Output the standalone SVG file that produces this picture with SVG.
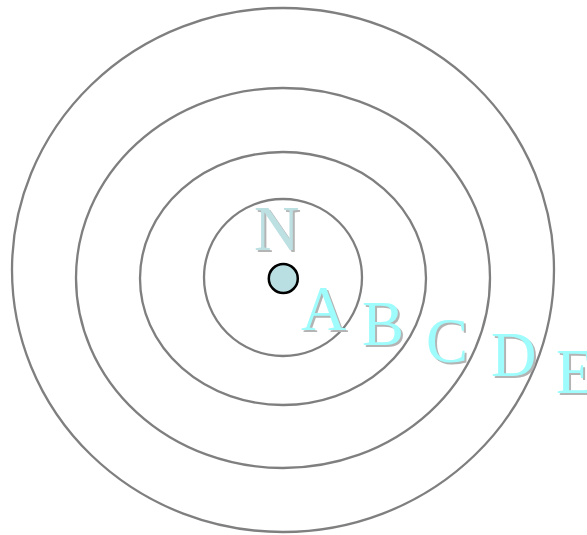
<svg xmlns="http://www.w3.org/2000/svg" width="587" height="535" viewBox="0 0 587 535">
<style>
.ring{fill:none;stroke:#7f7f7f;stroke-width:2.3}
.lbl{font-family:"Liberation Serif","Times New Roman",serif;font-size:63px}
.sh{fill:#b4b4b4}
.cy{fill:#9ffcfc}
.nn{fill:#bde0e3}
</style>
<rect width="587" height="535" fill="#ffffff"/>
<g id="rings">
<ellipse id="ringD" class="ring" cx="283" cy="270" rx="271" ry="262"/>
<ellipse id="ringC" class="ring" cx="283" cy="278" rx="207" ry="190"/>
<ellipse id="ringB" class="ring" cx="283" cy="278.5" rx="143" ry="126.5"/>
<ellipse id="ringA" class="ring" cx="283" cy="277.5" rx="79" ry="78.5"/>
</g>
<g id="nucleus">
<circle cx="283.3" cy="278.5" r="14.5" fill="#b9dfe3" stroke="#000000" stroke-width="2.5"/>
</g>
<g id="labelN" class="lbl">
<text class="sh" x="256" y="252">N</text>
<text class="nn" x="254" y="250">N</text>
</g>
<g id="labelA" class="lbl">
<text class="sh" x="303" y="332">A</text>
<text class="cy" x="301" y="330">A</text>
</g>
<g id="labelB" class="lbl">
<text class="sh" x="364" y="347">B</text>
<text class="cy" x="362" y="345">B</text>
</g>
<g id="labelC" class="lbl">
<text class="sh" x="428" y="364">C</text>
<text class="cy" x="426" y="362">C</text>
</g>
<g id="labelD" class="lbl">
<text class="sh" x="493" y="378">D</text>
<text class="cy" x="491" y="376">D</text>
</g>
<g id="labelE" class="lbl">
<text class="sh" x="558" y="395">E</text>
<text class="cy" x="556" y="393">E</text>
</g>
</svg>
